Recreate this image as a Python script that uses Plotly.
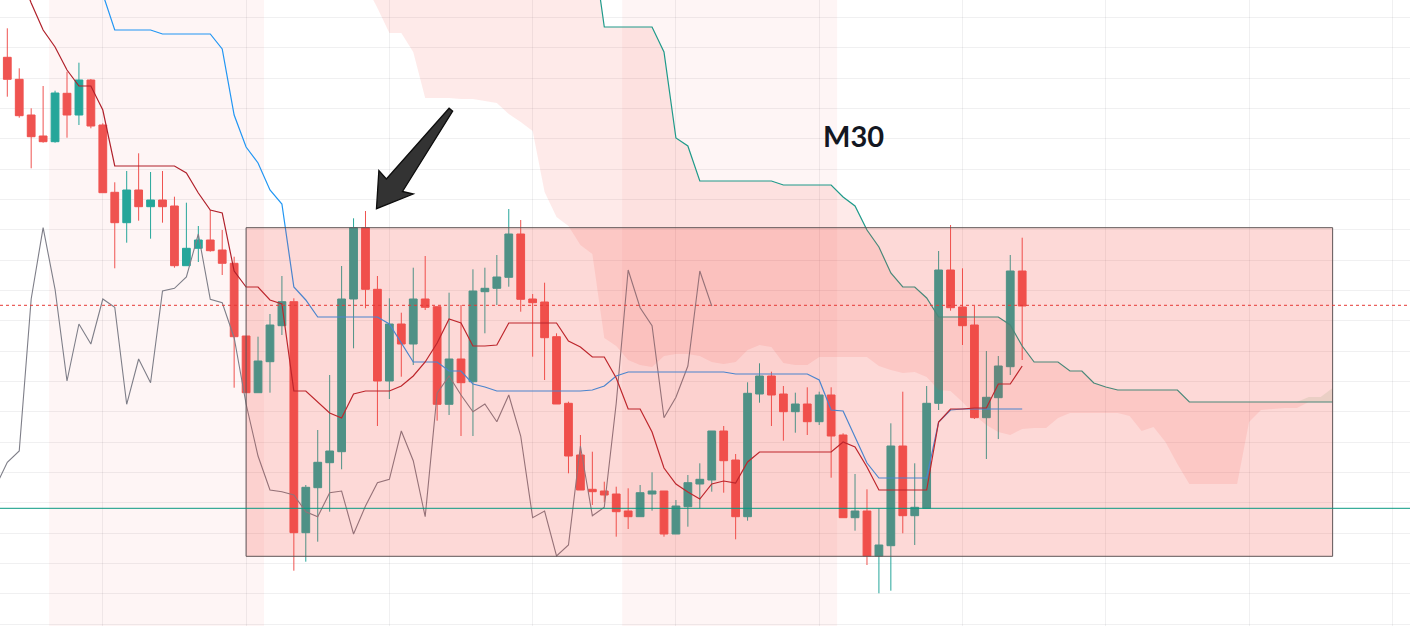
import numpy as np
import plotly.graph_objects as go

# ---------------- data (price units, M30 candles) ----------------
candle_idx = list(range(86))

open_ = [942.7, 920.7, 885.0, 864.0, 858.3, 906.7, 885.0, 920.0, 875.0, 807.7,
         777.3, 810.0, 793.3, 800.0, 794.0, 734.3, 751.7, 760.0, 750.0, 736.7,
         664.0, 607.3, 638.3, 674.3, 698.3, 467.3, 512.3, 537.3, 548.3, 701.0,
         772.3, 710.7, 619.0, 676.0, 656.0, 701.0, 693.3, 595.7, 641.0, 618.3,
         708.3, 711.7, 722.7, 766.0, 701.0, 698.0, 663.3, 596.7, 545.0, 510.7,
         509.0, 506.0, 489.0, 483.3, 506.0, 509.0, 466.0, 493.3, 516.0, 520.0,
         569.0, 540.0, 483.3, 606.0, 624.0, 606.0, 588.3, 596.0, 578.3, 605.0,
         565.0, 482.3, 489.0, 444.0, 454.3, 554.0, 484.3, 491.7, 596.7, 730.0,
         693.0, 675.0, 582.3, 602.3, 633.3, 729.0]

high = [971.7, 931.7, 891.7, 914.0, 909.3, 928.3, 937.3, 921.0, 876.7, 817.7,
        829.0, 846.7, 828.0, 829.0, 803.3, 797.3, 774.0, 790.0, 770.0, 743.3,
        664.0, 663.3, 686.0, 724.0, 701.7, 515.0, 570.0, 625.0, 734.0, 781.7,
        789.0, 724.0, 701.7, 687.3, 732.3, 744.0, 693.3, 707.3, 695.0, 730.7,
        732.3, 745.0, 791.0, 780.0, 706.0, 717.3, 666.7, 598.3, 565.0, 548.3,
        518.3, 513.3, 511.7, 515.0, 527.7, 509.0, 500.0, 525.0, 536.7, 569.0,
        574.0, 546.0, 617.7, 636.7, 628.3, 614.0, 607.3, 612.7, 608.3, 612.7,
        566.7, 526.0, 510.7, 491.7, 576.7, 608.3, 536.7, 614.0, 749.0, 775.0,
        731.7, 694.0, 649.0, 644.0, 745.0, 762.3]

low = [903.3, 882.3, 831.7, 857.3, 857.3, 862.3, 875.0, 871.7, 807.3, 731.7,
       757.3, 779.3, 761.3, 777.3, 732.3, 734.3, 738.0, 748.3, 725.0, 612.3,
       607.3, 607.3, 607.3, 665.0, 429.3, 438.3, 458.3, 488.3, 530.7, 651.7,
       691.7, 574.0, 601.0, 623.3, 635.0, 690.0, 579.3, 585.0, 564.0, 564.0,
       666.7, 695.0, 713.3, 688.3, 643.3, 620.0, 596.0, 526.7, 510.0, 495.0,
       497.7, 463.3, 471.0, 483.3, 489.3, 463.3, 466.0, 473.3, 491.7, 508.3,
       507.3, 460.7, 479.3, 597.3, 574.0, 559.3, 567.3, 565.0, 575.0, 522.3,
       482.3, 469.3, 435.0, 406.7, 409.3, 466.7, 455.0, 491.7, 590.0, 689.3,
       655.0, 581.0, 541.0, 561.0, 625.0, 640.0]

close = [920.7, 884.3, 863.3, 858.3, 907.0, 885.0, 920.0, 874.0, 807.3, 777.3,
         810.0, 793.3, 800.0, 793.3, 734.3, 751.7, 760.0, 749.3, 736.7, 663.3,
         607.3, 639.0, 675.0, 698.3, 467.3, 512.7, 537.7, 549.0, 701.0, 772.3,
         710.7, 619.0, 676.0, 656.0, 701.0, 692.7, 595.7, 641.0, 617.3, 709.0,
         711.7, 723.0, 766.0, 700.7, 697.3, 662.3, 596.0, 544.0, 510.0, 508.3,
         505.0, 488.3, 483.3, 507.3, 509.0, 466.0, 494.0, 517.3, 520.7, 569.0,
         539.3, 483.3, 606.7, 624.0, 605.0, 588.3, 596.0, 578.3, 605.0, 564.0,
         482.3, 489.0, 444.0, 455.0, 554.0, 484.3, 492.7, 596.7, 730.0, 692.3,
         674.3, 582.3, 602.7, 634.0, 729.0, 694.0]

# Ichimoku conversion line (dark red), candles 0..85
tenkan_idx = list(range(0, 86))
tenkan = [1055, 1028, 997, 970, 953, 930, 914, 914, 890, 834,
          834, 834, 834, 834, 834, 827, 807, 790, 787, 729,
          713, 713, 700, 696, 609, 609, 598, 587, 582, 606,
          609, 609, 609, 614, 624, 638, 657, 681, 677, 654,
          654, 655, 677, 677, 677, 677, 677, 659, 653, 643,
          643, 622, 591, 591, 568, 532, 516, 508, 501, 516,
          519, 517, 538, 548, 548, 548, 548, 548, 548, 548,
          558, 553, 533, 510, 510, 510, 510, 510, 578, 591,
          591, 592, 592, 616, 616, 634]

# Ichimoku base line (blue), candles 7..85
kijun_idx = list(range(7, 86))
kijun = [1020, 1006, 970, 970, 970, 970, 966, 966, 966, 966,
         966, 951, 885, 853, 837, 810, 796, 713, 700, 683,
         683, 683, 683, 683, 683, 676, 657, 638, 638, 638,
         629, 629, 616, 613, 609, 609, 609, 609, 609, 609,
         609, 609, 610, 614, 624, 628, 628, 628, 628, 628,
         628, 628, 628, 628, 626, 626, 626, 626, 626, 626,
         626, 620, 590, 589, 563, 537, 522, 522, 522, 522,
         522, 578, 590, 591, 591, 591, 591, 591, 591]

# Leading spans (shifted forward), positions 29..111
span_idx = list(range(29, 112))
span_a = [1040, 1015, 992, 967, 967, 948, 902, 902, 902, 901,
          901, 899, 897, 886, 878, 869, 808, 783, 774, 755,
          746, 662, 654, 640, 635, 633, 644, 646, 646, 644,
          638, 636, 638, 650, 655, 653, 637, 635, 635, 643,
          643, 643, 643, 643, 634, 630, 627, 628, 623, 610,
          609, 598, 585, 575, 568, 565, 571, 572, 572, 582,
          587, 587, 587, 587, 587, 584, 569, 573, 558, 536,
          516, 516, 516, 516, 516, 578, 590, 591, 592, 592,
          603, 603, 612]
span_b = ([1100] * 20 + [1058] + [973] * 5 + [948, 862, 854] + [819] * 7 + [815] * 5 +
          [803, 794, 770, 753, 727, 713, 713, 702] + [683] * 6 +
          [675, 654, 638, 638, 638, 629, 629, 617, 613] + [610] * 6 + [598] * 13)

# lagging span: closes plotted 26 candles back
lag_shift = 26

# horizontal levels and drawing
level_support = 491.7
last_price = 694.7
zone_top, zone_bottom = 772.3, 443.7
zone_start, zone_end = 20, 111
sessions = [(3.5, 21.5), (51.5, 69.5)]

# ---------------- figure ----------------
A = np.array(span_a, dtype=float)
B = np.array(span_b, dtype=float)
red_lower = np.minimum(A, B)
green_upper = np.maximum(A, B)

fig = go.Figure()

# cloud
fig.add_trace(go.Scatter(x=span_idx, y=B, mode="lines", line=dict(width=0),
                         hoverinfo="skip", showlegend=False))
fig.add_trace(go.Scatter(x=span_idx, y=red_lower, mode="lines", line=dict(width=0),
                         fill="tonexty", fillcolor="rgba(244,67,54,0.11)",
                         hoverinfo="skip", showlegend=False))
fig.add_trace(go.Scatter(x=span_idx, y=B, mode="lines", line=dict(width=0),
                         hoverinfo="skip", showlegend=False))
fig.add_trace(go.Scatter(x=span_idx, y=green_upper, mode="lines", line=dict(width=0),
                         fill="tonexty", fillcolor="rgba(67,160,71,0.12)",
                         hoverinfo="skip", showlegend=False))

# candles
fig.add_trace(go.Candlestick(
    x=candle_idx, open=open_, high=high, low=low, close=close,
    increasing=dict(line=dict(color="#26A69A", width=1), fillcolor="#26A69A"),
    decreasing=dict(line=dict(color="#EF5350", width=1), fillcolor="#EF5350"),
    whiskerwidth=0, hoverinfo="skip", showlegend=False))

# leading span B line
fig.add_trace(go.Scatter(x=span_idx, y=B, mode="lines",
                         line=dict(color="#1E9A8A", width=1.2),
                         hoverinfo="skip", showlegend=False))
# lagging span
fig.add_trace(go.Scatter(x=[i - lag_shift for i in candle_idx], y=close, mode="lines",
                         line=dict(color="#7E7E88", width=1.1),
                         hoverinfo="skip", showlegend=False))
# base line
fig.add_trace(go.Scatter(x=kijun_idx, y=kijun, mode="lines",
                         line=dict(color="#2196F3", width=1.2),
                         hoverinfo="skip", showlegend=False))
# conversion line
fig.add_trace(go.Scatter(x=tenkan_idx, y=tenkan, mode="lines",
                         line=dict(color="#B0202A", width=1.2),
                         hoverinfo="skip", showlegend=False))

shapes = []
for s0, s1 in sessions:
    shapes.append(dict(type="rect", xref="x", yref="paper", x0=s0, x1=s1, y0=0, y1=1,
                       fillcolor="rgba(244,67,54,0.05)", line=dict(width=0), layer="below"))
shapes.append(dict(type="rect", xref="x", yref="y", x0=zone_start, x1=zone_end,
                   y0=zone_bottom, y1=zone_top, fillcolor="rgba(244,67,54,0.2)",
                   line=dict(color="#5E5456", width=1), layer="above"))
shapes.append(dict(type="line", xref="paper", yref="y", x0=0, x1=1,
                   y0=level_support, y1=level_support,
                   line=dict(color="#089981", width=1), layer="above"))
shapes.append(dict(type="line", xref="paper", yref="y", x0=0, x1=1,
                   y0=last_price, y1=last_price,
                   line=dict(color="#E53935", width=1, dash="dot"), layer="above"))
# drawn arrow pointing at the swing high
shapes.append(dict(type="path", xref="x", yref="y",
                   path="M 37.00,891.8 L 31.75,821 L 31.12,829.5 L 30.92,791.3 "
                        "L 34.00,806 L 33.10,808.5 L 37.30,888.8 Z",
                   fillcolor="#333333", line=dict(color="#0D0D0D", width=1.3), layer="above"))

fig.update_layout(
    width=1410, height=626,
    margin=dict(l=0, r=0, t=0, b=0),
    paper_bgcolor="white", plot_bgcolor="white",
    showlegend=False, boxgap=0.35, boxgroupgap=0,
    shapes=shapes,
    annotations=[dict(x=70.9, y=864.5, xref="x", yref="y", text="M30", showarrow=False,
                      font=dict(family="Lato", size=29, color="#131722", weight="bold"))],
    xaxis=dict(range=[-0.611, 117.48], tickmode="linear", tick0=8, dtick=12,
               showgrid=True, gridcolor="rgba(42,46,57,0.07)", gridwidth=1,
               showticklabels=False, ticks="", zeroline=False, showline=False,
               rangeslider=dict(visible=False)),
    yaxis=dict(range=[374, 1000], tickmode="linear", tick0=982.7, dtick=30.35,
               showgrid=True, gridcolor="rgba(42,46,57,0.07)", gridwidth=1,
               showticklabels=False, ticks="", zeroline=False, showline=False),
)

fig.write_html("out.html", config={"displayModeBar": False},
               post_script="document.body.style.margin='0px';document.body.style.overflow='hidden';")
